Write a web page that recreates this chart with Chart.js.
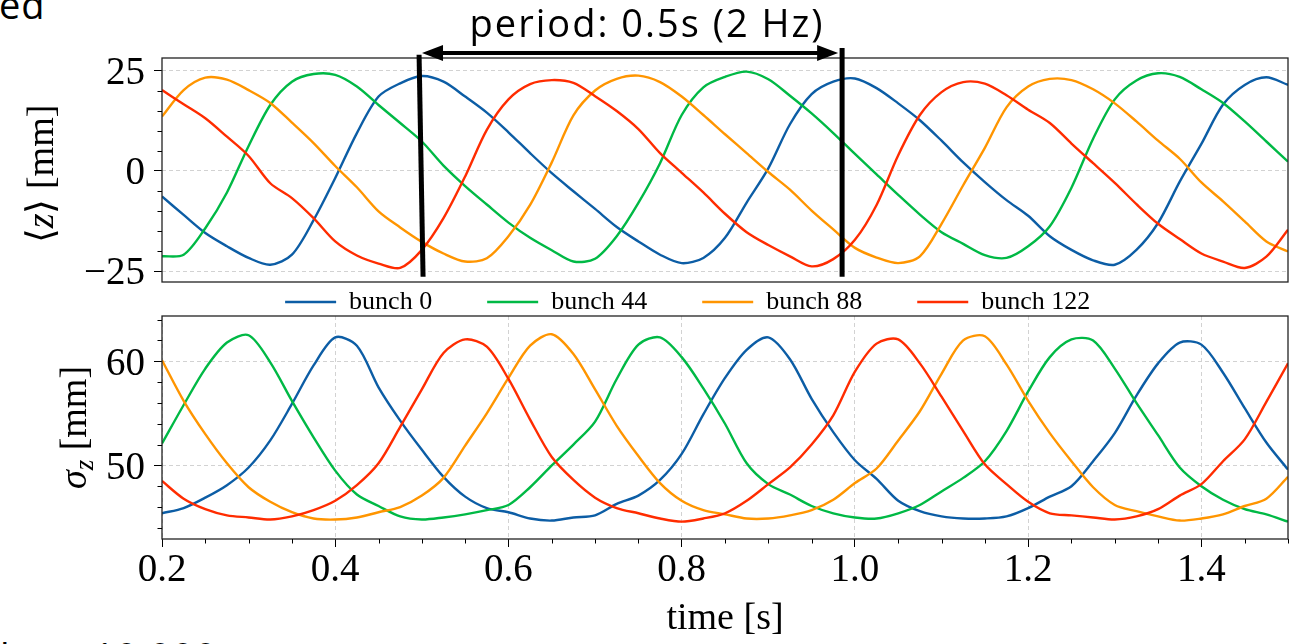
<!DOCTYPE html>
<html>
<head>
<meta charset="utf-8">
<script src="https://cdn.jsdelivr.net/npm/chart.js@4/dist/chart.umd.min.js"></script>
<style>
  html, body { margin: 0; padding: 0; background: #fff; }
  #wrap { position: relative; width: 1291px; height: 644px; overflow: hidden; }
  #wrap canvas { position: absolute; left: 0; top: 0; }
  .note { position: absolute; font: 38px/38px "Open Sans", sans-serif; color: #000; white-space: nowrap; letter-spacing: 1px; }
</style>
</head>
<body>
<div id="wrap">
  <div class="note" style="left:-1px; top:-15px;">ed</div>
  <div class="note" style="left:0px; top:637px;">l</div>
  <div class="note" style="left:93px; top:637px;">10 000</div>
  <canvas id="zChart" width="1291" height="644"></canvas>
  <canvas id="sChart" width="1291" height="644"></canvas>
</div>
<script>
// time samples [s]
const times = [0.2, 0.225, 0.25, 0.275, 0.3, 0.325, 0.35, 0.375, 0.4, 0.425, 0.45, 0.475, 0.5,
  0.525, 0.55, 0.575, 0.6, 0.625, 0.65, 0.675, 0.7, 0.725, 0.75, 0.775, 0.8, 0.825, 0.85, 0.875, 0.9, 0.925, 0.95, 0.975, 1.0,
  1.025, 1.05, 1.075, 1.1, 1.125, 1.15, 1.175, 1.2, 1.225, 1.25, 1.275, 1.3, 1.325, 1.35, 1.375, 1.4, 1.425, 1.45, 1.475, 1.5];

const names = ['bunch 0', 'bunch 44', 'bunch 88', 'bunch 122'];
const colors = ['#0C5DA5', '#00B945', '#FF9500', '#FF2C00'];

// <z> [mm]
const zBunch0 = [-6.4, -11, -15.5, -18.8, -21.7, -23.4, -20.9, -12.3, -1.8, 9.4, 18.5, 21.8, 23.6,
  22.2, 18.5, 14.5, 9.6, 4.4, -0.6, -5.1, -9.5, -14, -17.6, -20.9, -23, -21.7, -16.7, -7.9, 0.6, 11.6, 19.1, 22.2, 23,
  20.6, 16.8, 12.6, 7.5, 2.1, -2.8, -7.3, -11.2, -16.3, -19.7, -22.3, -23.4, -19.7, -13, -2.7, 6.7, 16.5, 21.4, 23.3, 21.4];
const zBunch44 = [-21.3, -20.9, -14.3, -5.4, 6.2, 16.4, 22.2, 24.1, 23.9, 21, 16.4, 11.9, 7.3,
  1.3, -3.8, -8.4, -12.9, -16.7, -19.8, -22.6, -21.9, -16.3, -8, 1.9, 13.9, 20.8, 23.4, 24.7, 22.8, 18.7, 14.3, 9.4, 4.2,
  -0.9, -6, -10.9, -15.3, -18.2, -21, -21.7, -18.8, -13.8, -4.2, 8, 17.8, 22.5, 24.3, 23.4, 20.3, 16.9, 12.3, 7.3, 2.3];
const zBunch88 = [13.5, 20.1, 23.2, 22.7, 20.1, 16.9, 12, 6.9, 1.2, -4.1, -10.1, -14.1, -17.7,
  -20.6, -22.6, -21.8, -16.3, -8.5, 2.1, 13.8, 20, 22.9, 23.7, 22.1, 18.5, 13.9, 9.1, 4.4, -0.3, -4.7, -9.9, -14.6, -19.2,
  -21.6, -23, -21.3, -13.2, -3.6, 5.7, 15.8, 21, 22.9, 22.6, 20.3, 16.8, 12.3, 7.5, 3, -2.9, -7.6, -12.6, -17.6, -20.1];
const zBunch122 = [20.1, 16.6, 13.1, 8.5, 3.7, -3.1, -6.8, -11.8, -17.6, -21.1, -23.1, -24.2, -19.7,
  -11.8, -1.4, 10.2, 17.8, 21.6, 22.6, 21.9, 18.6, 14.9, 10.4, 4.4, -0.5, -5.4, -10.7, -15.3, -18.5, -21.3, -23.8, -22, -17.2,
  -8.5, 3.9, 13.9, 19.6, 22.1, 21.7, 18.8, 15.2, 11.9, 6.8, 1.9, -3, -8.3, -13.2, -17, -20.6, -22.6, -24.2, -21.4, -14.7];

// sigma_z [mm]
const sBunch0 = [45.4, 45.9, 46.9, 48.1, 49.8, 52.4, 55.9, 59.6, 62.3, 61.5, 57.5, 54.3, 51.5,
  48.9, 47, 45.9, 45.5, 44.9, 44.7, 45, 45.2, 46.3, 47.1, 48.6, 51.1, 54.9, 58.4, 61.1, 62.3, 60.2, 56.4, 53.2, 50.5,
  48.7, 46.6, 45.6, 45.1, 44.9, 44.9, 45.1, 45.9, 47, 48, 50.4, 53.1, 56.7, 59.8, 61.8, 61.6, 58.9, 55.5, 52.2, 49.6];
const sBunch44 = [52.1, 55.8, 59.3, 61.8, 62.5, 59.9, 56.2, 52.7, 49.5, 47.2, 46.1, 45.1, 44.8,
  45, 45.3, 45.7, 46.2, 47.9, 50, 52, 54.2, 58.3, 61.6, 62.3, 60.4, 57.4, 54, 50.2, 48.2, 47.2, 46.1, 45.4, 45,
  44.9, 45.4, 46.2, 47.5, 48.8, 50.4, 53.3, 57.1, 60.4, 62.1, 62, 59.3, 56, 52.9, 49.8, 48, 46.7, 45.8, 45.3, 44.6];
const sBunch88 = [60.1, 56.2, 53, 50.2, 47.9, 46.5, 45.5, 44.9, 44.8, 45, 45.5, 46, 47.1,
  48.8, 51.9, 55, 58.4, 61.5, 62.6, 60.7, 57.3, 53.8, 50.9, 48.3, 46.6, 45.7, 45.3, 44.9, 44.9, 45.2, 45.7, 46.7, 48.3,
  49.7, 52.4, 55.2, 58.8, 62, 62.4, 59.7, 56.2, 53.1, 50.4, 47.9, 46.2, 45.6, 45.1, 44.7, 44.9, 45.3, 46.1, 46.8, 48.9];
const sBunch122 = [48.5, 46.8, 45.8, 45.2, 45, 44.8, 45.1, 45.7, 46.6, 48.1, 50.2, 53.7, 57.3,
  60.8, 62.1, 61.4, 58.3, 54.4, 50.8, 48.6, 46.9, 45.9, 45.4, 44.9, 44.6, 44.9, 45.4, 46.6, 48.2, 49.8, 52, 54.8, 59,
  61.7, 62.1, 59.8, 56.6, 53.3, 50.1, 48.2, 46.5, 45.4, 45.2, 45, 44.8, 45.1, 45.8, 47.1, 48.2, 50.4, 52.5, 56.1, 59.8];

// axis ticks
const timeTicks = [0.2, 0.4, 0.6, 0.8, 1.0, 1.2, 1.4];
const timeMinor = [0.25, 0.3, 0.35, 0.45, 0.5, 0.55, 0.65, 0.7, 0.75, 0.85, 0.9, 0.95, 1.05, 1.1, 1.15, 1.25, 1.3, 1.35, 1.45, 1.5];
const zTicks = [-25, 0, 25];
const zMinor = [-20, -15, -10, -5, 5, 10, 15, 20];
const sTicks = [50, 60];
const sMinor = [44, 46, 48, 52, 54, 56, 58, 62, 64];

// period annotation (data units: time, <z>)
const periodBars = [[0.4968, 28.9, 0.5014, -26.4], [0.9852, 30.6, 0.9852, -26.4]];
const periodArrow = [0.5002, 0.9806, 29.35];
const periodLabel = 'period: 0.5s (2 Hz)';

const SERIF = '"Liberation Serif", "Times New Roman", serif';
const GRID = '#d2d2d2';

function makeSets(series) {
  return series.map((vals, i) => ({
    label: names[i],
    data: vals.map((v, j) => ({x: times[j], y: v})),
    borderColor: colors[i],
    backgroundColor: colors[i],
    borderWidth: 2.4,
    pointRadius: 0,
    tension: 0.3,
    order: 4 - i
  }));
}

function fmt(v) {
  return v < 0 ? '\u2212' + Math.abs(v) : String(v);
}

// frame round the plot + outward minor ticks
function framePlugin(xMinor, yMinor) {
  return {
    id: 'frame',
    afterDatasetsDraw(chart) {
      const {ctx, chartArea: a, scales} = chart;
      ctx.save();
      ctx.strokeStyle = '#222';
      ctx.lineWidth = 1.3;
      ctx.strokeRect(a.left, a.top, a.right - a.left, a.bottom - a.top);
      ctx.lineWidth = 1;
      ctx.strokeStyle = '#000';
      ctx.beginPath();
      xMinor.forEach(v => {
        const p = Math.round(scales.x.getPixelForValue(v)) + 0.5;
        ctx.moveTo(p, a.bottom); ctx.lineTo(p, a.bottom + 4.5);
      });
      yMinor.forEach(v => {
        const p = Math.round(scales.y.getPixelForValue(v)) + 0.5;
        ctx.moveTo(a.left - 4.5, p); ctx.lineTo(a.left, p);
      });
      ctx.stroke();
      ctx.restore();
    }
  };
}

// rotated y title with italic / subscript parts
function yTitlePlugin(parts, dx, dy) {
  return {
    id: 'ytitle',
    afterDraw(chart) {
      const {ctx, chartArea: a} = chart;
      ctx.save();
      ctx.translate(a.left + dx, (a.top + a.bottom) / 2 + dy);
      ctx.rotate(-Math.PI / 2);
      ctx.fillStyle = '#000';
      ctx.textBaseline = 'middle';
      let w = 0;
      parts.forEach(p => { ctx.font = p[1]; w += ctx.measureText(p[0]).width; });
      let x = -w / 2;
      parts.forEach(p => {
        ctx.font = p[1];
        ctx.fillText(p[0], x, p[2] || 0);
        x += ctx.measureText(p[0]).width;
      });
      ctx.restore();
    }
  };
}

const periodPlugin = {
  id: 'period',
  afterDraw(chart) {
    const {ctx, scales: {x, y}} = chart;
    ctx.save();
    ctx.strokeStyle = '#000';
    ctx.fillStyle = '#000';
    ctx.lineWidth = 5;
    ctx.lineCap = 'butt';
    periodBars.forEach(b => {
      ctx.beginPath();
      ctx.moveTo(x.getPixelForValue(b[0]), y.getPixelForValue(b[1]));
      ctx.lineTo(x.getPixelForValue(b[2]), y.getPixelForValue(b[3]));
      ctx.stroke();
    });
    const x0 = x.getPixelForValue(periodArrow[0]);
    const x1 = x.getPixelForValue(periodArrow[1]);
    const ay = y.getPixelForValue(periodArrow[2]);
    ctx.lineWidth = 4;
    ctx.beginPath();
    ctx.moveTo(x0 + 12, ay); ctx.lineTo(x1 - 12, ay);
    ctx.stroke();
    ctx.beginPath();
    ctx.moveTo(x0, ay); ctx.lineTo(x0 + 21, ay - 8); ctx.lineTo(x0 + 21, ay + 8); ctx.closePath();
    ctx.moveTo(x1, ay); ctx.lineTo(x1 - 21, ay - 8); ctx.lineTo(x1 - 21, ay + 8); ctx.closePath();
    ctx.fill();
    ctx.font = '38px "Open Sans", sans-serif';
    ctx.letterSpacing = '2px';
    ctx.textAlign = 'center';
    ctx.textBaseline = 'alphabetic';
    ctx.fillText(periodLabel, (x0 + x1) / 2 + 17, ay - 16);
    ctx.restore();
  }
};

const tickFont = {family: SERIF, size: 39};

new Chart(document.getElementById('zChart'), {
  type: 'line',
  data: {datasets: makeSets([zBunch0, zBunch44, zBunch88, zBunch122])},
  options: {
    responsive: false,
    animation: false,
    devicePixelRatio: 1,
    events: [],
    layout: {padding: {top: 58, left: 0, right: 3, bottom: 362}},
    plugins: {legend: {display: false}, tooltip: {enabled: false}},
    scales: {
      x: {type: 'linear', min: 0.2, max: 1.5, display: false},
      y: {
        min: -27.7, max: 28.1,
        afterBuildTicks: s => { s.ticks = zTicks.map(v => ({value: v})); },
        afterFit: s => { s.width = 162; },
        ticks: {callback: v => fmt(v), font: tickFont, color: '#000', padding: 9, labelOffset: 3},
        grid: {color: GRID, lineWidth: 1, tickColor: '#000', tickLength: 8, tickWidth: 1},
        border: {display: false, dash: [4, 3]}
      }
    }
  },
  plugins: [
    framePlugin([], zMinor),
    yTitlePlugin([['\u27E8', '38px ' + SERIF], ['z', 'italic 38px ' + SERIF], ['\u27E9 [mm]', '38px ' + SERIF]], -118.5, 4),
    periodPlugin
  ]
});

new Chart(document.getElementById('sChart'), {
  type: 'line',
  data: {datasets: makeSets([sBunch0, sBunch44, sBunch88, sBunch122])},
  options: {
    responsive: false,
    animation: false,
    devicePixelRatio: 1,
    events: [],
    layout: {padding: {top: 234, left: 87.4, right: 3, bottom: 0}},
    plugins: {
      tooltip: {enabled: false},
      legend: {
        position: 'top',
        maxHeight: 82,
        labels: {
          usePointStyle: true, pointStyle: 'line', pointStyleWidth: 51,
          padding: 55, color: '#000', font: {family: SERIF, size: 26},
          sort: (a, b) => a.datasetIndex - b.datasetIndex
        }
      }
    },
    scales: {
      x: {
        type: 'linear', min: 0.2, max: 1.5,
        afterBuildTicks: s => { s.ticks = timeTicks.map(v => ({value: v})); },
        afterFit: s => { s.height = 105; },
        ticks: {callback: v => v.toFixed(1), font: tickFont, color: '#000', padding: 0, maxRotation: 0, autoSkip: false},
        grid: {color: GRID, lineWidth: 1, tickColor: '#000', tickLength: 8, tickWidth: 1},
        border: {display: false, dash: [4, 3]},
        title: {display: true, text: 'time [s]', font: {family: SERIF, size: 38}, color: '#000', padding: {top: 0, bottom: 2}}
      },
      y: {
        min: 42.93, max: 64.35,
        afterBuildTicks: s => { s.ticks = sTicks.map(v => ({value: v})); },
        afterFit: s => { s.width = 74.6; },
        ticks: {callback: v => fmt(v), font: tickFont, color: '#000', padding: 9, labelOffset: 3},
        grid: {color: GRID, lineWidth: 1, tickColor: '#000', tickLength: 8, tickWidth: 1},
        border: {display: false, dash: [4, 3]}
      }
    }
  },
  plugins: [
    framePlugin(timeMinor, sMinor),
    yTitlePlugin([['\u03C3', 'italic 38px ' + SERIF], ['z', 'italic 27px ' + SERIF, 9], [' [mm]', '38px ' + SERIF]], -85.5, 0)
  ]
});
</script>
</body>
</html>
